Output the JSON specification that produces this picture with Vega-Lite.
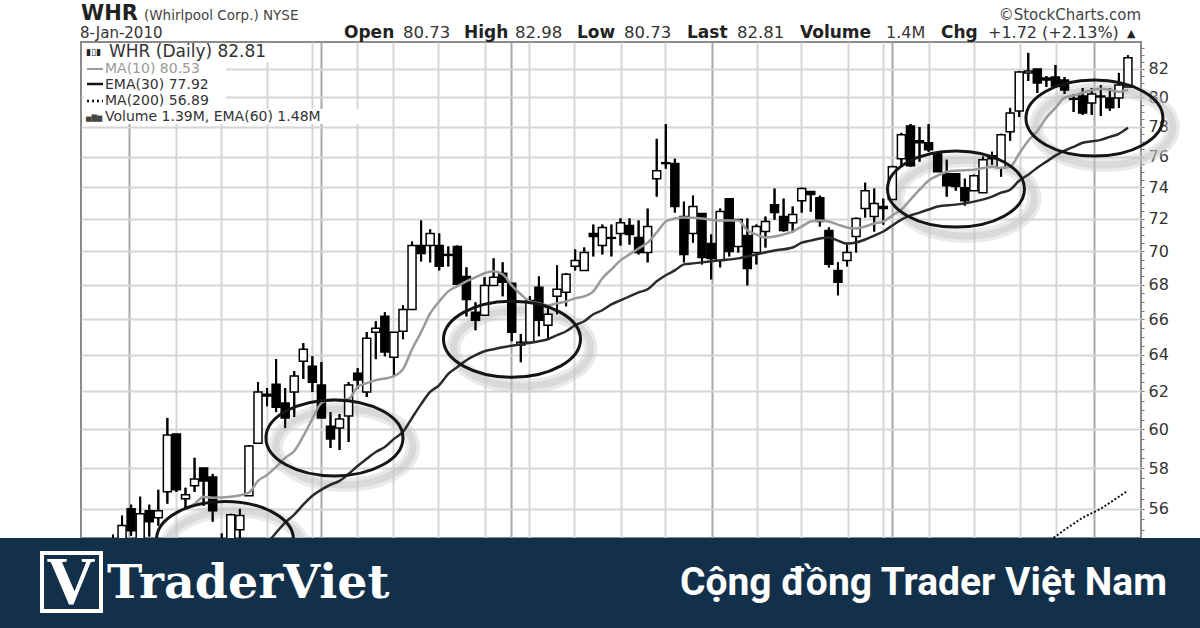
{"$schema":"https://vega.github.io/schema/vega-lite/v6.json","width":1060,"height":496,"autosize":{"type":"none"},"padding":{"left":81,"top":42,"right":59,"bottom":90},"background":"#ffffff","config":{"view":{"stroke":"#8a8a8a","strokeWidth":2}},
"resolve":{"axis":{"x":"independent","y":"independent"}},
"datasets":{
"candles":[
{"day":1,"open":54.0,"high":54.76,"low":53.8,"close":54.4},
{"day":2,"open":54.3,"high":55.67,"low":54.2,"close":55.19},
{"day":3,"open":56.0,"high":56.2,"low":54.71,"close":54.95},
{"day":4,"open":54.33,"high":56.59,"low":54.1,"close":55.76},
{"day":5,"open":55.9,"high":56.2,"low":54.67,"close":55.38},
{"day":6,"open":55.57,"high":56.93,"low":55.19,"close":55.9},
{"day":7,"open":56.83,"high":60.59,"low":56.25,"close":59.7},
{"day":8,"open":59.75,"high":59.75,"low":56.83,"close":56.93},
{"day":9,"open":56.49,"high":57.03,"low":56.0,"close":56.69},
{"day":10,"open":57.13,"high":58.53,"low":56.83,"close":57.47},
{"day":11,"open":58.02,"high":58.02,"low":56.15,"close":57.37},
{"day":12,"open":57.57,"high":57.72,"low":55.38,"close":55.9},
{"day":13,"open":54.0,"high":54.81,"low":53.8,"close":54.4},
{"day":14,"open":54.33,"high":55.76,"low":54.2,"close":55.71},
{"day":15,"open":54.99,"high":56.0,"low":54.57,"close":55.67},
{"day":16,"open":56.64,"high":59.18,"low":56.64,"close":59.13},
{"day":17,"open":59.28,"high":62.5,"low":59.28,"close":61.97},
{"day":18,"open":61.85,"high":62.18,"low":61.21,"close":61.75},
{"day":19,"open":62.39,"high":63.76,"low":60.9,"close":61.16},
{"day":20,"open":61.38,"high":62.18,"low":60.06,"close":60.59},
{"day":21,"open":61.97,"high":63.1,"low":60.64,"close":62.83},
{"day":22,"open":63.64,"high":64.65,"low":62.67,"close":64.31},
{"day":23,"open":63.37,"high":63.92,"low":61.97,"close":62.5},
{"day":24,"open":62.34,"high":63.59,"low":60.59,"close":60.59},
{"day":25,"open":60.16,"high":60.9,"low":59.03,"close":59.5},
{"day":26,"open":60.06,"high":60.8,"low":58.93,"close":60.54},
{"day":27,"open":60.69,"high":62.5,"low":59.34,"close":62.34},
{"day":28,"open":62.99,"high":63.26,"low":62.13,"close":62.61},
{"day":29,"open":61.97,"high":65.27,"low":61.7,"close":64.93},
{"day":30,"open":65.27,"high":65.89,"low":63.76,"close":65.49},
{"day":31,"open":66.17,"high":66.4,"low":63.92,"close":64.15},
{"day":32,"open":63.87,"high":65.27,"low":62.83,"close":65.27},
{"day":33,"open":65.32,"high":66.8,"low":64.87,"close":66.57},
{"day":34,"open":66.57,"high":70.6,"low":66.57,"close":70.36},
{"day":35,"open":70.36,"high":71.9,"low":69.4,"close":69.88},
{"day":36,"open":70.36,"high":71.35,"low":69.34,"close":71.1},
{"day":37,"open":70.36,"high":71.1,"low":68.86,"close":69.1},
{"day":38,"open":69.82,"high":70.3,"low":69.1,"close":69.76},
{"day":39,"open":70.3,"high":70.36,"low":68.03,"close":68.03},
{"day":40,"open":68.5,"high":69.04,"low":66.17,"close":67.15},
{"day":41,"open":66.4,"high":66.98,"low":65.38,"close":65.94},
{"day":42,"open":66.23,"high":68.45,"low":66.23,"close":67.97},
{"day":43,"open":67.97,"high":69.58,"low":67.97,"close":68.45},
{"day":44,"open":68.69,"high":69.34,"low":67.33,"close":68.15},
{"day":45,"open":68.09,"high":68.09,"low":64.76,"close":65.27},
{"day":46,"open":64.54,"high":65.16,"low":63.59,"close":64.7},
{"day":47,"open":64.7,"high":67.33,"low":64.7,"close":67.09},
{"day":48,"open":67.86,"high":68.5,"low":65.04,"close":65.94},
{"day":49,"open":65.66,"high":66.69,"low":64.87,"close":66.29},
{"day":50,"open":67.33,"high":69.16,"low":66.29,"close":67.74},
{"day":51,"open":67.56,"high":68.69,"low":66.75,"close":68.63},
{"day":52,"open":69.1,"high":70.12,"low":68.86,"close":69.46},
{"day":53,"open":68.86,"high":70.24,"low":68.86,"close":69.94},
{"day":54,"open":71.1,"high":71.65,"low":69.7,"close":70.91},
{"day":55,"open":70.36,"high":71.65,"low":69.82,"close":71.47},
{"day":56,"open":70.85,"high":71.65,"low":69.7,"close":70.8},
{"day":57,"open":71.1,"high":72.03,"low":70.36,"close":71.77},
{"day":58,"open":71.59,"high":72.03,"low":70.42,"close":71.04},
{"day":59,"open":70.85,"high":71.9,"low":69.82,"close":69.94},
{"day":60,"open":69.94,"high":72.65,"low":69.34,"close":71.53},
{"day":61,"open":74.56,"high":77.18,"low":73.41,"close":75.08},
{"day":62,"open":75.6,"high":78.17,"low":75.21,"close":75.54},
{"day":63,"open":75.54,"high":75.86,"low":72.4,"close":72.78},
{"day":64,"open":72.15,"high":73.09,"low":69.34,"close":69.82},
{"day":65,"open":71.1,"high":73.47,"low":70.54,"close":72.78},
{"day":66,"open":72.34,"high":72.34,"low":69.22,"close":69.64},
{"day":67,"open":70.48,"high":71.04,"low":68.33,"close":69.58},
{"day":68,"open":69.46,"high":72.65,"low":69.04,"close":72.46},
{"day":69,"open":73.28,"high":73.28,"low":69.7,"close":70.0},
{"day":70,"open":70.3,"high":71.96,"low":69.94,"close":71.96},
{"day":71,"open":70.97,"high":72.03,"low":67.97,"close":68.98},
{"day":72,"open":69.94,"high":71.65,"low":69.22,"close":71.53},
{"day":73,"open":71.22,"high":72.15,"low":70.24,"close":71.84},
{"day":74,"open":72.9,"high":73.92,"low":71.96,"close":72.4},
{"day":75,"open":72.15,"high":73.28,"low":71.22,"close":71.29},
{"day":76,"open":71.77,"high":72.78,"low":71.16,"close":72.28},
{"day":77,"open":73.15,"high":73.98,"low":72.4,"close":73.92},
{"day":78,"open":73.73,"high":73.73,"low":72.46,"close":73.54},
{"day":79,"open":73.34,"high":73.47,"low":71.53,"close":71.84},
{"day":80,"open":71.29,"high":71.47,"low":69.04,"close":69.22},
{"day":81,"open":68.86,"high":69.34,"low":67.39,"close":68.15},
{"day":82,"open":69.46,"high":70.42,"low":69.1,"close":69.94},
{"day":83,"open":70.91,"high":72.09,"low":69.94,"close":72.03},
{"day":84,"open":72.65,"high":74.3,"low":72.09,"close":73.79},
{"day":85,"open":72.15,"high":73.92,"low":71.22,"close":72.97},
{"day":86,"open":72.78,"high":73.28,"low":71.65,"close":72.65},
{"day":87,"open":73.22,"high":75.4,"low":73.22,"close":75.34},
{"day":88,"open":75.86,"high":77.58,"low":75.4,"close":77.45},
{"day":89,"open":78.05,"high":78.17,"low":75.34,"close":75.4},
{"day":90,"open":77.05,"high":77.98,"low":75.67,"close":76.92},
{"day":91,"open":76.92,"high":78.17,"low":76.32,"close":76.45},
{"day":92,"open":76.26,"high":76.26,"low":75.01,"close":75.01},
{"day":93,"open":74.88,"high":75.8,"low":73.41,"close":74.11},
{"day":94,"open":74.88,"high":74.88,"low":73.79,"close":74.05},
{"day":95,"open":73.98,"high":74.56,"low":72.84,"close":73.15},
{"day":96,"open":73.79,"high":74.82,"low":73.79,"close":74.75},
{"day":97,"open":73.66,"high":76.0,"low":73.66,"close":75.8},
{"day":98,"open":76.06,"high":76.32,"low":75.47,"close":75.86},
{"day":99,"open":75.27,"high":77.52,"low":74.69,"close":77.45},
{"day":100,"open":77.65,"high":79.28,"low":77.05,"close":78.93},
{"day":101,"open":79.07,"high":81.86,"low":78.66,"close":81.79},
{"day":102,"open":81.72,"high":83.15,"low":81.15,"close":81.86},
{"day":103,"open":82.0,"high":82.0,"low":80.31,"close":81.01},
{"day":104,"open":81.36,"high":81.5,"low":80.73,"close":81.22},
{"day":105,"open":81.43,"high":82.28,"low":80.66,"close":80.8},
{"day":106,"open":81.22,"high":81.43,"low":80.24,"close":80.52},
{"day":107,"open":79.93,"high":80.24,"low":79.0,"close":79.87},
{"day":108,"open":80.1,"high":80.66,"low":78.8,"close":78.93},
{"day":109,"open":79.62,"high":80.66,"low":78.8,"close":80.24},
{"day":110,"open":80.1,"high":80.87,"low":78.73,"close":80.04},
{"day":111,"open":79.97,"high":80.66,"low":79.07,"close":79.28},
{"day":112,"open":79.97,"high":81.72,"low":79.28,"close":80.87},
{"day":113,"open":80.73,"high":82.98,"low":80.73,"close":82.81}],
"ma10":[
{"day":9,"v":56.0},{"day":10,"v":56.24},{"day":11,"v":56.59},{"day":12,"v":56.54},{"day":14,"v":56.59},{"day":16,"v":56.79},{"day":17,"v":57.37},{"day":18,"v":57.67},{"day":19,"v":58.07},{"day":20,"v":58.53},{"day":21,"v":58.88},{"day":22,"v":59.64},{"day":23,"v":60.54},{"day":24,"v":61.38},{"day":25,"v":61.55},{"day":26,"v":61.55},{"day":27,"v":61.6},{"day":28,"v":62.24},{"day":29,"v":62.45},{"day":30,"v":62.61},{"day":32,"v":62.83},{"day":33,"v":63.21},{"day":34,"v":64.31},{"day":35,"v":65.27},{"day":36,"v":66.34},{"day":37,"v":67.03},{"day":38,"v":67.62},{"day":39,"v":67.92},{"day":40,"v":68.21},{"day":41,"v":68.45},{"day":42,"v":68.69},{"day":43,"v":68.81},{"day":44,"v":68.63},{"day":45,"v":67.97},{"day":46,"v":67.45},{"day":47,"v":67.03},{"day":48,"v":66.92},{"day":49,"v":66.8},{"day":50,"v":66.92},{"day":51,"v":67.03},{"day":52,"v":67.21},{"day":53,"v":67.33},{"day":54,"v":67.62},{"day":55,"v":68.39},{"day":56,"v":68.92},{"day":57,"v":69.46},{"day":58,"v":69.82},{"day":59,"v":70.18},{"day":60,"v":70.54},{"day":61,"v":71.16},{"day":62,"v":71.84},{"day":63,"v":72.03},{"day":64,"v":72.09},{"day":66,"v":72.03},{"day":68,"v":71.9},{"day":70,"v":71.9},{"day":71,"v":71.29},{"day":72,"v":71.04},{"day":73,"v":70.85},{"day":74,"v":70.91},{"day":75,"v":71.04},{"day":76,"v":71.22},{"day":77,"v":71.53},{"day":78,"v":71.84},{"day":79,"v":71.9},{"day":80,"v":71.84},{"day":81,"v":71.65},{"day":82,"v":71.47},{"day":83,"v":71.41},{"day":84,"v":71.53},{"day":85,"v":71.72},{"day":86,"v":71.84},{"day":87,"v":72.22},{"day":88,"v":72.59},{"day":89,"v":73.22},{"day":90,"v":73.85},{"day":91,"v":74.43},{"day":92,"v":74.75},{"day":93,"v":75.01},{"day":94,"v":75.08},{"day":96,"v":75.14},{"day":98,"v":75.34},{"day":99,"v":75.27},{"day":100,"v":75.34},{"day":101,"v":76.2},{"day":102,"v":77.05},{"day":103,"v":77.71},{"day":104,"v":78.6},{"day":105,"v":79.28},{"day":106,"v":79.99},{"day":107,"v":80.13},{"day":108,"v":80.33},{"day":110,"v":80.6},{"day":111,"v":80.53},{"day":112,"v":80.4},{"day":113,"v":80.53}],
"ema30":[
{"day":17,"v":53.9},{"day":18,"v":54.34},{"day":19,"v":54.85},{"day":20,"v":55.33},{"day":21,"v":55.72},{"day":22,"v":56.2},{"day":23,"v":56.64},{"day":24,"v":56.94},{"day":25,"v":57.18},{"day":26,"v":57.37},{"day":27,"v":57.72},{"day":28,"v":58.12},{"day":29,"v":58.48},{"day":30,"v":58.83},{"day":31,"v":59.08},{"day":32,"v":59.5},{"day":33,"v":59.86},{"day":34,"v":60.59},{"day":35,"v":61.32},{"day":36,"v":61.97},{"day":37,"v":62.34},{"day":38,"v":62.95},{"day":39,"v":63.32},{"day":40,"v":63.7},{"day":41,"v":63.98},{"day":42,"v":64.2},{"day":43,"v":64.31},{"day":44,"v":64.42},{"day":46,"v":64.59},{"day":48,"v":64.76},{"day":49,"v":64.87},{"day":50,"v":65.1},{"day":51,"v":65.32},{"day":52,"v":65.66},{"day":53,"v":65.89},{"day":54,"v":66.29},{"day":55,"v":66.52},{"day":56,"v":66.86},{"day":57,"v":67.09},{"day":58,"v":67.33},{"day":59,"v":67.56},{"day":60,"v":67.74},{"day":61,"v":68.21},{"day":62,"v":68.57},{"day":63,"v":68.86},{"day":64,"v":69.22},{"day":65,"v":69.28},{"day":66,"v":69.34},{"day":68,"v":69.46},{"day":70,"v":69.58},{"day":72,"v":69.82},{"day":74,"v":70.06},{"day":76,"v":70.24},{"day":77,"v":70.54},{"day":78,"v":70.66},{"day":79,"v":70.79},{"day":80,"v":70.85},{"day":81,"v":70.66},{"day":82,"v":70.48},{"day":83,"v":70.54},{"day":84,"v":70.73},{"day":85,"v":70.97},{"day":86,"v":71.22},{"day":87,"v":71.59},{"day":88,"v":71.96},{"day":89,"v":72.22},{"day":90,"v":72.4},{"day":91,"v":72.59},{"day":92,"v":72.78},{"day":94,"v":72.9},{"day":96,"v":73.09},{"day":98,"v":73.41},{"day":99,"v":73.66},{"day":100,"v":73.85},{"day":101,"v":74.43},{"day":102,"v":74.82},{"day":103,"v":75.27},{"day":104,"v":75.67},{"day":105,"v":76.06},{"day":106,"v":76.39},{"day":107,"v":76.65},{"day":108,"v":76.92},{"day":110,"v":77.11},{"day":111,"v":77.31},{"day":112,"v":77.52},{"day":113,"v":77.92}],
"ma200":[{"day":102,"v":54.1},{"day":104,"v":54.35},{"day":106,"v":54.99},{"day":108,"v":55.57},{"day":110,"v":56.0},{"day":113,"v":56.89}],
"rings":[{"day":13.36,"price":54.53},{"day":25.44,"price":59.55},{"day":45.03,"price":64.87},{"day":94.02,"price":73.89},{"day":109.3,"price":78.58}]
},
"layer":[
{"data":{"name":"candles"},"mark":{"type":"rule","stroke":"#000","strokeWidth":2},"encoding":{
"x":{"field":"day","type":"quantitative","scale":{"domain":[-2.53,114.44],"nice":false,"zero":false,"padding":0},"axis":{"title":null,"labels":false,"ticks":false,"domain":false,"grid":true,"gridWidth":2,"values":[2.77,7.95,12.92,17.99,22.96,23.95,27.92,31.9,36.86,42.05,44.92,46.9,51.87,57.06,61.91,67.1,72.06,76.91,82.1,85.97,86.96,91.04,96.0,101.08,105.06,109.25],"gridColor":{"condition":{"test":"indexof([2.77,23.95,44.92,67.1,86.96,109.25],datum.value)>=0","value":"#a8a8a8"},"value":"#d6d6d6"}}},
"y":{"field":"low","type":"quantitative","scale":{"type":"log","base":10,"domain":[54.6,83.94],"nice":false,"zero":false},"axis":{"title":null,"orient":"right","domain":false,"grid":true,"gridWidth":2,"gridColor":"#d6d6d6","gridOpacity":{"condition":{"test":"datum.value % 2 === 0","value":1},"value":0},"tickColor":"#777","tickSize":3,"labelFont":"DejaVu Sans","labelFontSize":16,"labelColor":"#333","labelPadding":4,"labelOverlap":false,"labelExpr":"datum.value % 2 === 0 ? format(datum.value,'.0f') : ''","values":[55,55.5,56,56.5,57,57.5,58,58.5,59,59.5,60,60.5,61,61.5,62,62.5,63,63.5,64,64.5,65,65.5,66,66.5,67,67.5,68,68.5,69,69.5,70,70.5,71,71.5,72,72.5,73,73.5,74,74.5,75,75.5,76,76.5,77,77.5,78,78.5,79,79.5,80,80.5,81,81.5,82,82.5,83,83.5]}},
"y2":{"field":"high"}}},
{"data":{"name":"rings"},"mark":{"type":"point","shape":"M -1 0 A 1 0.555 0 1 1 1 0 A 1 0.555 0 1 1 -1 0 Z","filled":false,"stroke":"#cccccc","strokeWidth":14,"opacity":0.4,"size":18769,"xOffset":10,"yOffset":9},"encoding":{"x":{"field":"day","type":"quantitative","scale":{"domain":[-2.53,114.44],"nice":false,"zero":false,"padding":0},"axis":null},"y":{"field":"price","type":"quantitative","scale":{"type":"log","base":10,"domain":[54.6,83.94],"nice":false,"zero":false},"axis":null}}},
{"data":{"name":"rings"},"mark":{"type":"point","shape":"M -1 0 A 1 0.555 0 1 1 1 0 A 1 0.555 0 1 1 -1 0 Z","filled":false,"stroke":"#c0c0c0","strokeWidth":7,"opacity":0.4,"size":18769,"xOffset":10,"yOffset":9},"encoding":{"x":{"field":"day","type":"quantitative","scale":{"domain":[-2.53,114.44],"nice":false,"zero":false,"padding":0},"axis":null},"y":{"field":"price","type":"quantitative","scale":{"type":"log","base":10,"domain":[54.6,83.94],"nice":false,"zero":false},"axis":null}}},
{"data":{"name":"candles"},"mark":{"type":"rule","stroke":"#000","strokeWidth":2},"encoding":{"x":{"field":"day","type":"quantitative","scale":{"domain":[-2.53,114.44],"nice":false,"zero":false,"padding":0},"axis":null},"y":{"field":"low","type":"quantitative","scale":{"type":"log","base":10,"domain":[54.6,83.94],"nice":false,"zero":false},"axis":null},"y2":{"field":"high"}}},
{"data":{"name":"candles"},"mark":{"type":"bar","size":8,"stroke":"#000","strokeWidth":1.5},"encoding":{"x":{"field":"day","type":"quantitative","scale":{"domain":[-2.53,114.44],"nice":false,"zero":false,"padding":0},"axis":null},"y":{"field":"open","type":"quantitative","scale":{"type":"log","base":10,"domain":[54.6,83.94],"nice":false,"zero":false},"axis":null},"y2":{"field":"close"},"fill":{"condition":{"test":"datum.close>=datum.open","value":"#ffffff"},"value":"#000000"}}},
{"data":{"name":"ma10"},"mark":{"type":"line","stroke":"#9a9a9a","strokeWidth":2.5,"interpolate":"monotone"},"encoding":{"x":{"field":"day","type":"quantitative","scale":{"domain":[-2.53,114.44],"nice":false,"zero":false,"padding":0},"axis":null},"y":{"field":"v","type":"quantitative","scale":{"type":"log","base":10,"domain":[54.6,83.94],"nice":false,"zero":false},"axis":null}}},
{"data":{"name":"ema30"},"mark":{"type":"line","stroke":"#2a2a2a","strokeWidth":2.5,"interpolate":"monotone"},"encoding":{"x":{"field":"day","type":"quantitative","scale":{"domain":[-2.53,114.44],"nice":false,"zero":false,"padding":0},"axis":null},"y":{"field":"v","type":"quantitative","scale":{"type":"log","base":10,"domain":[54.6,83.94],"nice":false,"zero":false},"axis":null}}},
{"data":{"name":"ma200"},"mark":{"type":"line","stroke":"#111","strokeWidth":2,"strokeDash":[2,2]},"encoding":{"x":{"field":"day","type":"quantitative","scale":{"domain":[-2.53,114.44],"nice":false,"zero":false,"padding":0},"axis":null},"y":{"field":"v","type":"quantitative","scale":{"type":"log","base":10,"domain":[54.6,83.94],"nice":false,"zero":false},"axis":null}}},
{"data":{"name":"rings"},"mark":{"type":"point","shape":"M -1 0 A 1 0.555 0 1 1 1 0 A 1 0.555 0 1 1 -1 0 Z","filled":false,"stroke":"#141414","strokeWidth":3,"opacity":1,"size":18769},"encoding":{"x":{"field":"day","type":"quantitative","scale":{"domain":[-2.53,114.44],"nice":false,"zero":false,"padding":0},"axis":null},"y":{"field":"price","type":"quantitative","scale":{"type":"log","base":10,"domain":[54.6,83.94],"nice":false,"zero":false},"axis":null}}},

{"data":{"values":[{}]},"mark":{"type":"rect","fill":"#ffffff"},"encoding":{"x":{"value":2},"x2":{"value":224},"y":{"value":2},"y2":{"value":20}}},
{"data":{"values":[{}]},"mark":{"type":"rect","fill":"#ffffff"},"encoding":{"x":{"value":2},"x2":{"value":145},"y":{"value":20},"y2":{"value":67}}},
{"data":{"values":[{}]},"mark":{"type":"rect","fill":"#ffffff"},"encoding":{"x":{"value":2},"x2":{"value":279},"y":{"value":67},"y2":{"value":82}}},
{"data":{"values":[{}]},"mark":{"type":"rule","stroke":"#999999","strokeWidth":2},"encoding":{"x":{"value":6},"x2":{"value":22},"y":{"value":27}}},
{"data":{"values":[{}]},"mark":{"type":"rule","stroke":"#111111","strokeWidth":2.5},"encoding":{"x":{"value":6},"x2":{"value":22},"y":{"value":42}}},
{"data":{"values":[{}]},"mark":{"type":"rule","stroke":"#111111","strokeWidth":2.5,"strokeDash":[2,3]},"encoding":{"x":{"value":6},"x2":{"value":22},"y":{"value":59}}},
{"data":{"values":[{"t":"▮▯▮"}]},"mark":{"type":"text","align":"left","baseline":"alphabetic","font":"DejaVu Sans","fontSize":9,"fill":"#222"},"encoding":{"text":{"field":"t"},"x":{"value":5},"y":{"value":13}}},
{"data":{"values":[{"t":"▅▇▆"}]},"mark":{"type":"text","align":"left","baseline":"alphabetic","font":"DejaVu Sans","fontSize":7,"fill":"#444"},"encoding":{"text":{"field":"t"},"x":{"value":5},"y":{"value":78}}},
{"data":{"values":[{"t":"WHR (Daily) 82.81"}]},"mark":{"type":"text","align":"left","baseline":"alphabetic","font":"DejaVu Sans","fontSize":17,"fill":"#333"},"encoding":{"text":{"field":"t"},"x":{"value":28},"y":{"value":15}}},
{"data":{"values":[{"t":"MA(10) 80.53"}]},"mark":{"type":"text","align":"left","baseline":"alphabetic","font":"DejaVu Sans","fontSize":14,"fill":"#9a9a9a"},"encoding":{"text":{"field":"t"},"x":{"value":24},"y":{"value":31}}},
{"data":{"values":[{"t":"EMA(30) 77.92"}]},"mark":{"type":"text","align":"left","baseline":"alphabetic","font":"DejaVu Sans","fontSize":14,"fill":"#333"},"encoding":{"text":{"field":"t"},"x":{"value":24},"y":{"value":47}}},
{"data":{"values":[{"t":"MA(200) 56.89"}]},"mark":{"type":"text","align":"left","baseline":"alphabetic","font":"DejaVu Sans","fontSize":14,"fill":"#333"},"encoding":{"text":{"field":"t"},"x":{"value":24},"y":{"value":63}}},
{"data":{"values":[{"t":"Volume 1.39M, EMA(60) 1.48M"}]},"mark":{"type":"text","align":"left","baseline":"alphabetic","font":"DejaVu Sans","fontSize":14,"fill":"#333"},"encoding":{"text":{"field":"t"},"x":{"value":24},"y":{"value":79}}},

{"data":{"values":[{"t":"WHR"}]},"mark":{"type":"text","align":"left","baseline":"alphabetic","font":"DejaVu Sans","fontSize":21,"fontWeight":"bold","fill":"#222"},"encoding":{"text":{"field":"t"},"x":{"value":0},"y":{"value":-22}}},
{"data":{"values":[{"t":"(Whirlpool Corp.) NYSE"}]},"mark":{"type":"text","align":"left","baseline":"alphabetic","font":"DejaVu Sans","fontSize":13.5,"fill":"#444"},"encoding":{"text":{"field":"t"},"x":{"value":63},"y":{"value":-22}}},
{"data":{"values":[{"t":"8-Jan-2010"}]},"mark":{"type":"text","align":"left","baseline":"alphabetic","font":"DejaVu Sans","fontSize":15,"fill":"#333"},"encoding":{"text":{"field":"t"},"x":{"value":-1},"y":{"value":-4}}},
{"data":{"values":[{"t":"©StockCharts.com"}]},"mark":{"type":"text","align":"right","baseline":"alphabetic","font":"DejaVu Sans","fontSize":15,"fill":"#444"},"encoding":{"text":{"field":"t"},"x":{"value":1060},"y":{"value":-22}}},
{"data":{"values":[{"t":"Open"}]},"mark":{"type":"text","align":"left","baseline":"alphabetic","font":"DejaVu Sans","fontSize":17,"fontWeight":"bold","fill":"#222"},"encoding":{"text":{"field":"t"},"x":{"value":263},"y":{"value":-4}}},
{"data":{"values":[{"t":"80.73"}]},"mark":{"type":"text","align":"left","baseline":"alphabetic","font":"DejaVu Sans","fontSize":16.5,"fill":"#333"},"encoding":{"text":{"field":"t"},"x":{"value":322},"y":{"value":-4}}},
{"data":{"values":[{"t":"High"}]},"mark":{"type":"text","align":"left","baseline":"alphabetic","font":"DejaVu Sans","fontSize":17,"fontWeight":"bold","fill":"#222"},"encoding":{"text":{"field":"t"},"x":{"value":383},"y":{"value":-4}}},
{"data":{"values":[{"t":"82.98"}]},"mark":{"type":"text","align":"left","baseline":"alphabetic","font":"DejaVu Sans","fontSize":16.5,"fill":"#333"},"encoding":{"text":{"field":"t"},"x":{"value":434},"y":{"value":-4}}},
{"data":{"values":[{"t":"Low"}]},"mark":{"type":"text","align":"left","baseline":"alphabetic","font":"DejaVu Sans","fontSize":17,"fontWeight":"bold","fill":"#222"},"encoding":{"text":{"field":"t"},"x":{"value":496},"y":{"value":-4}}},
{"data":{"values":[{"t":"80.73"}]},"mark":{"type":"text","align":"left","baseline":"alphabetic","font":"DejaVu Sans","fontSize":16.5,"fill":"#333"},"encoding":{"text":{"field":"t"},"x":{"value":543},"y":{"value":-4}}},
{"data":{"values":[{"t":"Last"}]},"mark":{"type":"text","align":"left","baseline":"alphabetic","font":"DejaVu Sans","fontSize":17,"fontWeight":"bold","fill":"#222"},"encoding":{"text":{"field":"t"},"x":{"value":606},"y":{"value":-4}}},
{"data":{"values":[{"t":"82.81"}]},"mark":{"type":"text","align":"left","baseline":"alphabetic","font":"DejaVu Sans","fontSize":16.5,"fill":"#333"},"encoding":{"text":{"field":"t"},"x":{"value":656},"y":{"value":-4}}},
{"data":{"values":[{"t":"Volume"}]},"mark":{"type":"text","align":"left","baseline":"alphabetic","font":"DejaVu Sans","fontSize":17,"fontWeight":"bold","fill":"#222"},"encoding":{"text":{"field":"t"},"x":{"value":719},"y":{"value":-4}}},
{"data":{"values":[{"t":"1.4M"}]},"mark":{"type":"text","align":"left","baseline":"alphabetic","font":"DejaVu Sans","fontSize":16,"fill":"#333"},"encoding":{"text":{"field":"t"},"x":{"value":805},"y":{"value":-4}}},
{"data":{"values":[{"t":"Chg"}]},"mark":{"type":"text","align":"left","baseline":"alphabetic","font":"DejaVu Sans","fontSize":17,"fontWeight":"bold","fill":"#222"},"encoding":{"text":{"field":"t"},"x":{"value":860},"y":{"value":-4}}},
{"data":{"values":[{"t":"+1.72 (+2.13%)"}]},"mark":{"type":"text","align":"left","baseline":"alphabetic","font":"DejaVu Sans","fontSize":16,"fill":"#333"},"encoding":{"text":{"field":"t"},"x":{"value":907},"y":{"value":-4}}},
{"data":{"values":[{"t":"▲"}]},"mark":{"type":"text","align":"left","baseline":"alphabetic","font":"DejaVu Sans","fontSize":11,"fill":"#222"},"encoding":{"text":{"field":"t"},"x":{"value":1046},"y":{"value":-5}}},

{"data":{"values":[{}]},"mark":{"type":"rect","fill":"#12304a"},"encoding":{"x":{"value":-81},"x2":{"value":1119},"y":{"value":496},"y2":{"value":586}}},
{"data":{"values":[{}]},"mark":{"type":"rect","fill":"#12304a","stroke":"#ffffff","strokeWidth":4},"encoding":{"x":{"value":-39},"x2":{"value":20},"y":{"value":511},"y2":{"value":569}}},
{"data":{"values":[{"t":"V"}]},"mark":{"type":"text","align":"center","baseline":"alphabetic","font":"Liberation Serif","fontSize":68,"fontWeight":"bold","fill":"#ffffff"},"encoding":{"text":{"field":"t"},"x":{"value":-10},"y":{"value":561}}},
{"data":{"values":[{"t":"TraderViet"}]},"mark":{"type":"text","align":"left","baseline":"alphabetic","font":"DejaVu Serif","fontSize":47.5,"fontWeight":"bold","fill":"#ffffff"},"encoding":{"text":{"field":"t"},"x":{"value":26},"y":{"value":556}}},
{"data":{"values":[{"t":"Cộng đồng Trader Việt Nam"}]},"mark":{"type":"text","align":"right","baseline":"alphabetic","font":"Roboto","fontSize":39,"fontWeight":"bold","fill":"#ffffff"},"encoding":{"text":{"field":"t"},"x":{"value":1086},"y":{"value":553}}}
]}
